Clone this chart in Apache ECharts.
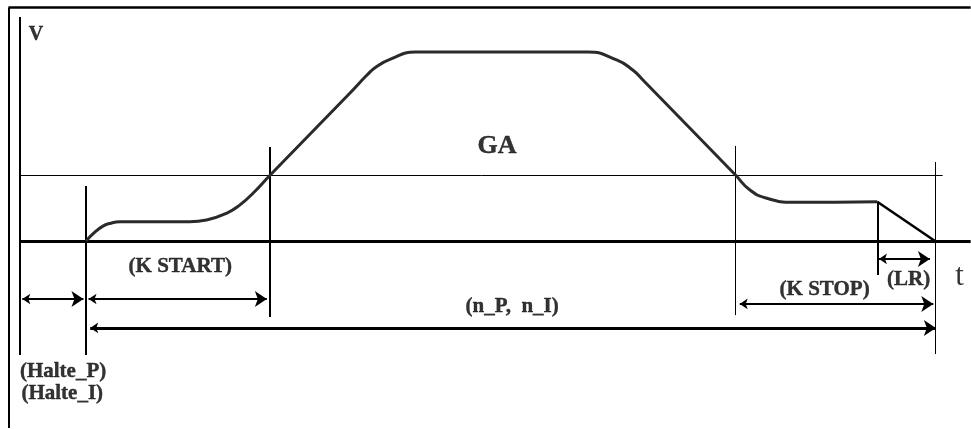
<!DOCTYPE html>
<html>
<head>
<meta charset="utf-8">
<script src="https://cdn.jsdelivr.net/npm/echarts@6/dist/echarts.min.js"></script>
<style>
  html, body { margin: 0; padding: 0; background: #fff; }
  #main { width: 971px; height: 429px; }
</style>
</head>
<body>
<div id="main"></div>
<script>
// speed profile (t in % of positioning time, v in % of max speed)
var profileT = [0, 1.2, 2.0, 2.8, 4.0, 12.2, 14.2, 16.6, 18.1, 19.7, 21.7, 31.1, 33.1, 34.2, 35.8, 38.8,
                59.1, 62.5, 64.4, 65.6, 76.5, 78.2, 80.2, 83.3, 93.2];
var profileV = [0, 5.3, 7.9, 9.3, 10.2, 10.2, 11.1, 14.8, 19.0, 25.4, 34.9, 78.3, 87.8, 92.2, 96.1, 100,
                100, 95.8, 90.5, 85.2, 34.9, 27.0, 22.6, 20.5, 20.8];
var rampT = [93.2, 100];
var rampV = [20.8, 0];

var gaLevel = 34.9;
var kStartEnd = 21.7;
var kStopStart = 76.5;
var lrStart = 93.2;
var endT = 100;

// labels
var labelText = ['V', 'GA', '(K START)', '(n_P,  n_I)', '(K STOP)', '(LR)', 't', '(Halte_P)', '(Halte_I)'];
var labelT    = [-5.9, 48.4, 11.1, 50.2, 87.0, 96.9, 102.9, -2.7, -2.8];
var labelV    = [109, 49.9, -13.6, -34.8, -25.6, -20.3, -18.9, -69.1, -80.6];

var myChart = echarts.init(document.getElementById('main'));

var tPx = 8.49, vPx = 1.89;
var tMin = -10, tMax = 104.2, vMin = -99, vMax = 127;

function seg(a, b, w) {
    return { coords: [a, b], lineStyle: { width: w, color: '#000', opacity: 1 } };
}

var guides = [
    seg([-9.13, 123.5], [tMax, 123.5], 2.5),     // frame top
    seg([-9.13, 123.5], [-9.13, vMin], 2),       // frame left
    seg([-7.77, 118.5], [-7.77, -60.3], 2),      // v axis
    seg([-7.77, 0], [tMax, 0], 3),               // t axis
    seg([-7.77, gaLevel], [100.9, gaLevel], 1),  // GA level
    seg([0, 29.1], [0, -60.3], 2),
    seg([kStartEnd, 49.7], [kStartEnd, -40.2], 2),
    seg([kStopStart, 50.3], [kStopStart, -39.2], 1),
    seg([lrStart, 20.8], [lrStart, -18], 2),
    seg([endT, 41.8], [endT, -59.8], 1)
];

var arrows = [
    seg([-7.5, -30.7], [-0.3, -30.7], 2),
    seg([0.3, -30.7], [21.3, -30.7], 2),
    seg([0.5, -46], [100.1, -46], 3),
    seg([77.0, -33.3], [99.8, -33.3], 2),
    seg([93.4, -9.5], [99.4, -9.5], 2)
];

var labelData = labelText.map(function (txt, i) {
    var style = { fontFamily: 'Liberation Serif', fontWeight: 'bold', fontSize: 21, color: '#000',
                  textBorderColor: '#000', textBorderWidth: 0.4 };
    if (txt === 'GA') style.fontSize = 26;
    if (txt === 'V') style.fontSize = 20;
    if (txt === 't') { style.fontSize = 31; style.fontWeight = 'normal'; style.textBorderWidth = 0; }
    return { value: [labelT[i], labelV[i]], label: Object.assign({ show: true, formatter: txt, position: 'inside' }, style) };
});

var option = {
    animation: false,
    grid: {
        left: 86 + tMin * tPx,
        top: 241 - vMax * vPx,
        width: (tMax - tMin) * tPx,
        height: (vMax - vMin) * vPx
    },
    xAxis: { type: 'value', min: tMin, max: tMax, show: false },
    yAxis: { type: 'value', min: vMin, max: vMax, show: false },
    series: [
        {
            type: 'lines',
            coordinateSystem: 'cartesian2d',
            silent: true,
            lineStyle: { opacity: 1 },
            data: guides
        },
        {
            type: 'lines',
            coordinateSystem: 'cartesian2d',
            symbol: ['arrow', 'arrow'],
            symbolSize: [8, 12],
            silent: true,
            lineStyle: { opacity: 1 },
            data: arrows
        },
        {
            type: 'line',
            data: profileT.map(function (t, i) { return [t, profileV[i]]; }),
            smooth: 0.5,
            showSymbol: false,
            lineStyle: { color: '#2a2a2a', width: 3 }
        },
        {
            type: 'line',
            data: rampT.map(function (t, i) { return [t, rampV[i]]; }),
            showSymbol: false,
            lineStyle: { color: '#000', width: 2.5 }
        },
        {
            type: 'scatter',
            symbolSize: 1,
            itemStyle: { color: 'transparent' },
            data: labelData
        }
    ]
};

myChart.setOption(option);
</script>
</body>
</html>
